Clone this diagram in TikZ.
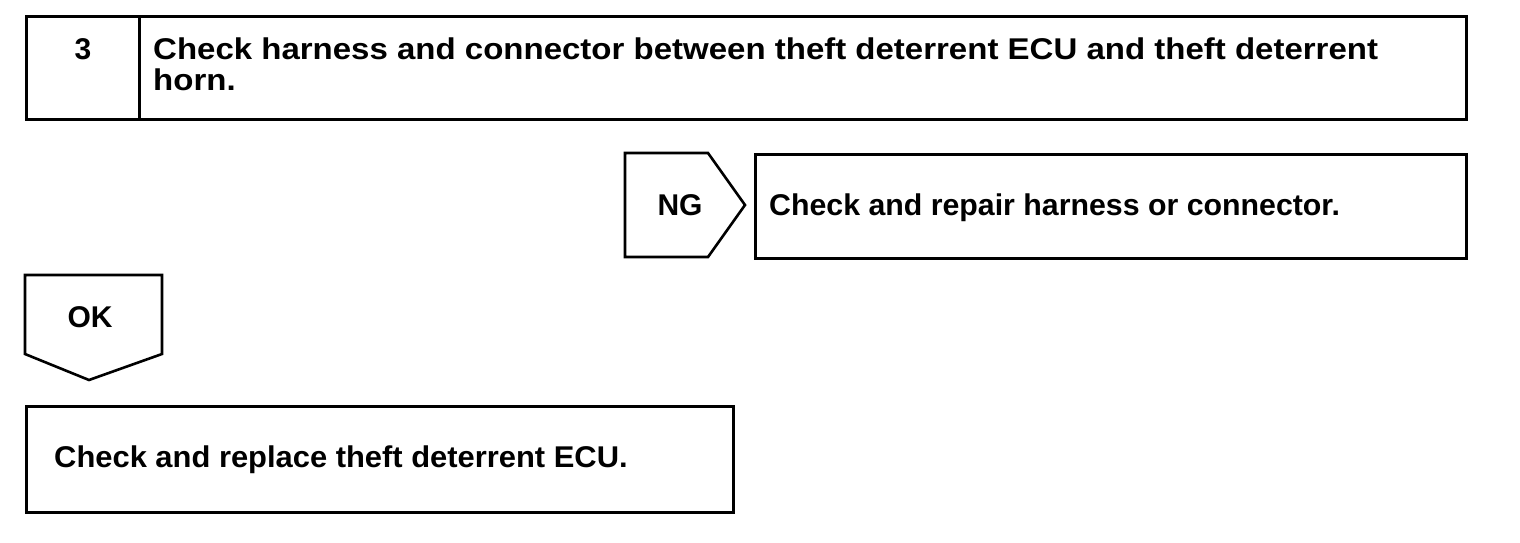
\documentclass[tikz,border=0pt]{standalone}
\usepackage{fontspec}
\setmainfont{Liberation Sans}
\begin{document}
\begin{tikzpicture}[x=1pt,y=-1pt,
  box/.style={draw,line width=2.6pt,rectangle,inner sep=0pt,anchor=north west},
  txt/.style={font=\bfseries\fontsize{30}{31}\selectfont,inner sep=0pt},
  tag/.style={draw,line width=2.6pt,line join=miter}]
\useasboundingbox (0,0) rectangle (1520,542);
% top box
\node[box,minimum width=113pt,minimum height=103pt] (num) at (25,15) {};
\node[box,minimum width=1327pt,minimum height=103pt] (title) at (138,15) {};
\node[txt,anchor=base] (numt) at (83,59) {3};
\node[txt,anchor=north west,align=left] (titlet) at (153,37.5)
  {\scalebox{1.1}[1]{Check harness and connector between theft deterrent ECU and theft deterrent}\\\scalebox{1.1}[1]{horn.}};
% NG
\coordinate (ng1) at (625,153);
\coordinate (ng2) at (708,153);
\coordinate (ng3) at (745,205);
\coordinate (ng4) at (708,257);
\coordinate (ng5) at (625,257);
\draw[tag] (ng1) -- (ng2) -- (ng3) -- (ng4) -- (ng5) -- cycle;
\node[txt,anchor=base] (ngt) at (680,215) {NG};
\node[box,minimum width=711pt,minimum height=104pt] (ngbox) at (754,153) {};
\node[txt,anchor=base west] (ngboxt) at (769,215) {\scalebox{1.01}[1]{Check and repair harness or connector.}};
% OK
\coordinate (ok1) at (25,275);
\coordinate (ok2) at (162,275);
\coordinate (ok3) at (162,354);
\coordinate (ok4) at (89,380);
\coordinate (ok5) at (25,354);
\draw[tag] (ok1) -- (ok2) -- (ok3) -- (ok4) -- (ok5) -- cycle;
\node[txt,anchor=base] (okt) at (90,327) {OK};
\node[box,minimum width=707pt,minimum height=106pt] (okbox) at (25,405) {};
\node[txt,anchor=base west] (okboxt) at (54,467) {\scalebox{1.03}[1]{Check and replace theft deterrent ECU.}};
\end{tikzpicture}
\end{document}
